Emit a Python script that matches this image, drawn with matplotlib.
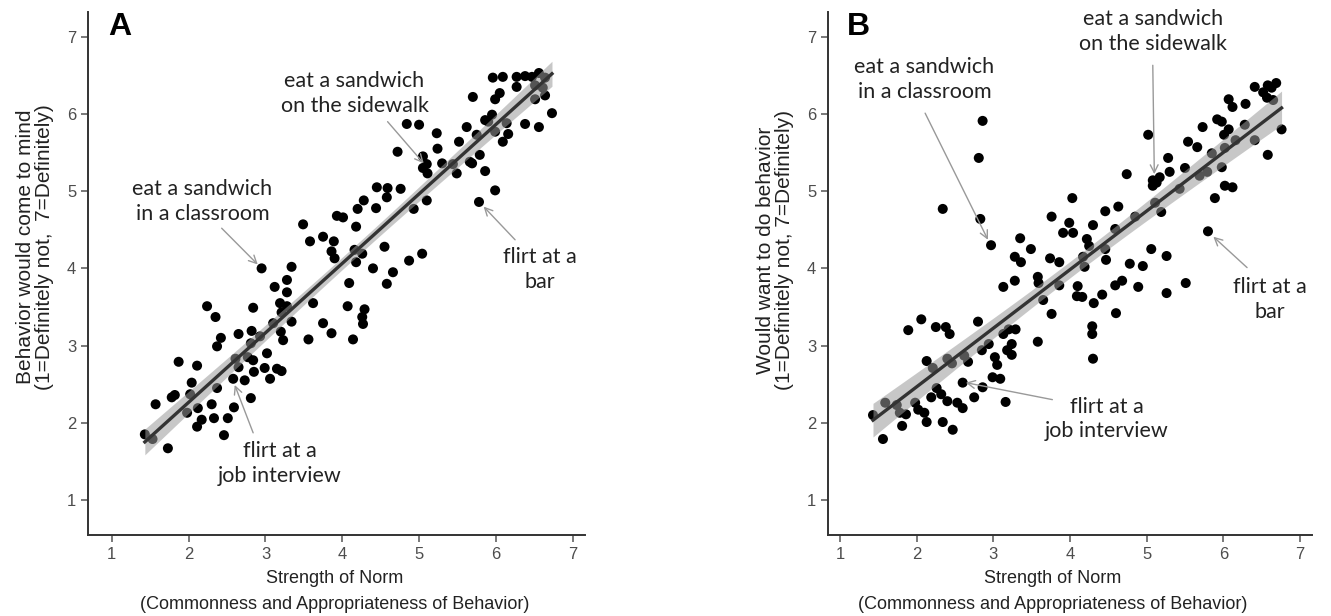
import numpy as np
import matplotlib
matplotlib.use("Agg")
import matplotlib.pyplot as plt

# ---------------- data ----------------
norm_a = [5.96, 6.09, 6.27, 6.38, 6.47, 6.56, 6.64, 6.27, 6.51, 6.61, 5.70, 5.99, 6.05, 6.51, 6.64,
          6.73, 5.95, 5.86, 5.90, 6.14, 6.38, 6.56, 5.62, 5.99, 6.16, 5.75, 6.09, 4.84, 5.00, 5.23,
          4.72, 5.24, 5.52, 5.05, 5.10, 5.05, 5.30, 5.11, 5.44, 5.49, 5.66, 5.79, 5.86, 5.69, 5.99,
          5.78, 5.10, 4.93, 4.45, 4.59, 4.76, 4.58, 4.28, 4.20, 4.44, 3.93, 4.01, 4.18, 3.49, 3.58,
          3.75, 3.89, 3.86, 3.90, 4.16, 4.26, 4.55, 4.18, 4.40, 4.66, 4.87, 5.04, 4.09, 4.58, 2.95,
          3.34, 3.28, 3.12, 3.28, 2.24, 2.35, 2.84, 3.19, 3.28, 3.21, 3.62, 4.07, 4.29, 4.26, 4.27,
          4.14, 3.75, 3.86, 3.56, 3.34, 3.10, 3.20, 3.23, 2.93, 2.82, 2.65, 2.42, 2.37, 3.02, 2.81,
          2.61, 2.84, 2.77, 2.65, 2.85, 2.99, 3.15, 3.21, 3.06, 2.73, 2.58, 1.87, 2.11, 2.04, 2.02,
          2.37, 1.82, 1.78, 1.57, 2.12, 2.30, 2.59, 2.81, 1.98, 2.17, 2.33, 2.51, 2.11, 2.46, 1.43,
          1.73, 1.53]
mind_a = [6.47, 6.48, 6.48, 6.49, 6.48, 6.53, 6.47, 6.35, 6.37, 6.34, 6.22, 6.19, 6.27, 6.19, 6.24,
          6.01, 5.99, 5.92, 5.90, 5.88, 5.87, 5.83, 5.83, 5.77, 5.74, 5.73, 5.64, 5.87, 5.86, 5.75,
          5.51, 5.55, 5.64, 5.45, 5.35, 5.30, 5.36, 5.23, 5.35, 5.23, 5.38, 5.47, 5.26, 5.36, 5.01,
          4.86, 4.88, 4.77, 5.05, 5.04, 5.03, 4.92, 4.88, 4.77, 4.78, 4.68, 4.66, 4.54, 4.57, 4.35,
          4.41, 4.35, 4.22, 4.13, 4.24, 4.19, 4.28, 4.08, 4.00, 3.95, 4.10, 4.19, 3.81, 3.80, 4.00,
          4.02, 3.85, 3.76, 3.69, 3.51, 3.37, 3.49, 3.55, 3.51, 3.43, 3.55, 3.51, 3.47, 3.37, 3.28,
          3.08, 3.29, 3.16, 3.08, 3.31, 3.29, 3.18, 3.07, 3.12, 3.19, 3.15, 3.10, 2.99, 2.90, 3.03,
          2.83, 2.81, 2.85, 2.72, 2.66, 2.71, 2.70, 2.67, 2.57, 2.55, 2.57, 2.79, 2.74, 2.52, 2.37,
          2.45, 2.36, 2.33, 2.24, 2.19, 2.24, 2.20, 2.32, 2.13, 2.04, 2.06, 2.06, 1.95, 1.84, 1.85,
          1.67, 1.79]

norm_b = [6.41, 6.52, 6.58, 6.69, 6.63, 6.57, 6.65, 6.07, 6.12, 6.29, 6.76, 5.92, 5.98, 5.73, 6.07,
          6.01, 6.16, 6.28, 6.41, 6.58, 5.54, 5.66, 5.85, 6.02, 5.98, 6.02, 6.12, 5.89, 5.80, 5.02,
          5.28, 5.30, 5.50, 5.69, 5.79, 5.08, 5.13, 5.08, 5.17, 4.74, 5.43, 5.19, 5.11, 4.85, 4.59,
          4.03, 4.46, 4.63, 3.76, 3.99, 4.30, 3.91, 4.04, 4.22, 4.25, 4.46, 3.35, 3.49, 3.28, 3.36,
          3.74, 3.86, 4.17, 4.19, 4.47, 4.78, 4.95, 5.06, 5.26, 5.51, 5.26, 4.89, 4.68, 4.59, 4.42,
          4.09, 4.10, 3.58, 3.59, 3.86, 3.28, 3.13, 2.86, 2.81, 2.34, 2.83, 2.97, 4.16, 4.31, 3.65,
          3.76, 4.60, 4.29, 4.29, 4.30, 3.58, 3.29, 3.20, 3.13, 3.24, 3.18, 3.24, 2.94, 2.85, 2.80,
          2.38, 2.43, 2.25, 2.06, 1.89, 3.02, 3.05, 2.99, 3.09, 2.67, 2.62, 2.40, 2.46, 2.13, 2.21,
          2.60, 2.86, 2.75, 3.16, 2.26, 2.32, 2.19, 2.40, 2.53, 2.60, 2.02, 2.10, 2.13, 1.98, 1.86,
          1.74, 1.59, 1.78, 2.34, 2.47, 1.81, 1.43, 1.56]
want_b = [6.35, 6.28, 6.37, 6.40, 6.34, 6.21, 6.18, 6.19, 6.09, 6.13, 5.80, 5.93, 5.90, 5.83, 5.80,
          5.73, 5.66, 5.86, 5.66, 5.47, 5.64, 5.57, 5.49, 5.56, 5.31, 5.07, 5.05, 4.91, 4.48, 5.73,
          5.43, 5.25, 5.30, 5.20, 5.25, 5.14, 5.11, 5.07, 5.18, 5.22, 5.03, 4.73, 4.85, 4.67, 4.51,
          4.91, 4.74, 4.80, 4.67, 4.59, 4.56, 4.46, 4.46, 4.38, 4.29, 4.25, 4.39, 4.25, 4.15, 4.08,
          4.13, 4.08, 4.15, 4.02, 4.11, 4.06, 4.03, 4.25, 4.16, 3.81, 3.68, 3.76, 3.84, 3.78, 3.66,
          3.64, 3.77, 3.89, 3.81, 3.78, 3.84, 3.76, 5.91, 5.43, 4.77, 4.64, 4.30, 3.63, 3.55, 3.59,
          3.41, 3.42, 3.25, 3.15, 2.83, 3.05, 3.21, 3.21, 3.15, 3.02, 2.94, 2.88, 3.02, 2.94, 3.31,
          3.24, 3.15, 3.24, 3.34, 3.20, 2.85, 2.75, 2.59, 2.57, 2.79, 2.87, 2.83, 2.77, 2.80, 2.71,
          2.52, 2.46, 2.33, 2.27, 2.45, 2.37, 2.33, 2.28, 2.26, 2.19, 2.17, 2.13, 2.01, 2.26, 2.11,
          2.23, 2.26, 2.13, 2.01, 1.91, 1.96, 2.10, 1.79]

ticks = [1, 2, 3, 4, 5, 6, 7]
x_label = "Strength of Norm\n(Commonness and Appropriateness of Behavior)"
y_label_a = "Behavior would come to mind\n(1=Definitely not,  7=Definitely)"
y_label_b = "Would want to do behavior\n(1=Definitely not, 7=Definitely)"

ann_labels = ["eat a sandwich\nin a classroom", "eat a sandwich\non the sidewalk",
              "flirt at a\nbar", "flirt at a\njob interview"]
# (text position, arrow start, arrow end) in data units
ann_a = [((2.18, 4.87), (2.43, 4.52), (2.90, 4.05)),
         ((4.16, 6.26), (4.59, 5.90), (5.06, 5.36)),
         ((6.57, 3.99), (6.25, 4.37), (5.84, 4.80)),
         ((3.19, 1.47), (2.84, 1.87), (2.60, 2.49))]
ann_b = [((2.10, 6.45), (2.11, 6.01), (2.93, 4.37)),
         ((5.08, 7.07), (5.08, 6.63), (5.10, 5.22)),
         ((6.61, 3.60), (6.31, 4.01), (5.87, 4.41)),
         ((4.48, 2.05), (3.77, 2.30), (2.64, 2.52))]

# ---------------- figure ----------------
plt.rcParams['font.family'] = ['Liberation Sans', 'DejaVu Sans']
fig = plt.figure(figsize=(13.31, 6.16), dpi=100)

axA = fig.add_axes([88/1331, 1-535/616, (585-88)/1331, (535-12)/616])
axB = fig.add_axes([828/1331, 1-535/616, (1312-828)/1331, (535-12)/616])


def panel(ax, x, y, xlim, ylabel, anns, letter, xlab_x, ylab_y):
    x = np.asarray(x)
    y = np.asarray(y)
    ax.scatter(x, y, s=52, color='black', edgecolors='none', zorder=2)
    # regression with 95% CI
    b, a = np.polyfit(x, y, 1)
    xs = np.linspace(x.min(), x.max(), 100)
    n = len(x)
    resid = y - (a + b * x)
    s = np.sqrt(np.sum(resid ** 2) / (n - 2))
    se = s * np.sqrt(1 / n + (xs - x.mean()) ** 2 / np.sum((x - x.mean()) ** 2))
    yh = a + b * xs
    ax.fill_between(xs, yh - 1.98 * se, yh + 1.98 * se, color='#9a9a9a', alpha=0.55,
                    linewidth=0, zorder=3)
    ax.plot(xs, yh, color='#333333', lw=2.4, zorder=4)

    ax.set_xlim(*xlim)
    ax.set_ylim(0.547, 7.32)
    ax.set_xticks(ticks)
    ax.set_yticks(ticks)
    for sp in ['top', 'right']:
        ax.spines[sp].set_visible(False)
    for sp in ['left', 'bottom']:
        ax.spines[sp].set_color('#333333')
        ax.spines[sp].set_linewidth(1.4)
    ax.tick_params(direction='out', length=5, width=1.1, color='#555555',
                   labelcolor='#4d4d4d', labelsize=12)
    ax.set_xlabel(x_label, fontsize=13, color='#222222', labelpad=6, linespacing=1.65)
    ax.set_ylabel(ylabel, fontsize=15, color='#222222', labelpad=9, linespacing=1.05)
    ax.xaxis.label.set_x(xlab_x)
    ax.yaxis.label.set_y(ylab_y)
    ax.text(0.04, 1.0, letter, transform=ax.transAxes, fontsize=23, fontweight='bold',
            va='top', ha='left', color='black')
    for lab, (tp, st, en) in zip(ann_labels, anns):
        ax.text(tp[0], tp[1], lab, ha='center', va='center', fontsize=15.5,
                family='Lato', color='#222222', linespacing=1.3, zorder=5)
        ax.annotate('', xy=en, xytext=st,
                    arrowprops=dict(arrowstyle='->', color='#999999', lw=1.0,
                                    mutation_scale=14, shrinkA=0, shrinkB=0), zorder=5)


panel(axA, norm_a, mind_a, (0.69, 7.16), y_label_a, ann_a, 'A', 0.497, 0.551)
panel(axB, norm_b, want_b, (0.843, 7.157), y_label_b, ann_b, 'B', 0.465, 0.545)

fig.savefig('out.png', dpi=100, facecolor='white')
